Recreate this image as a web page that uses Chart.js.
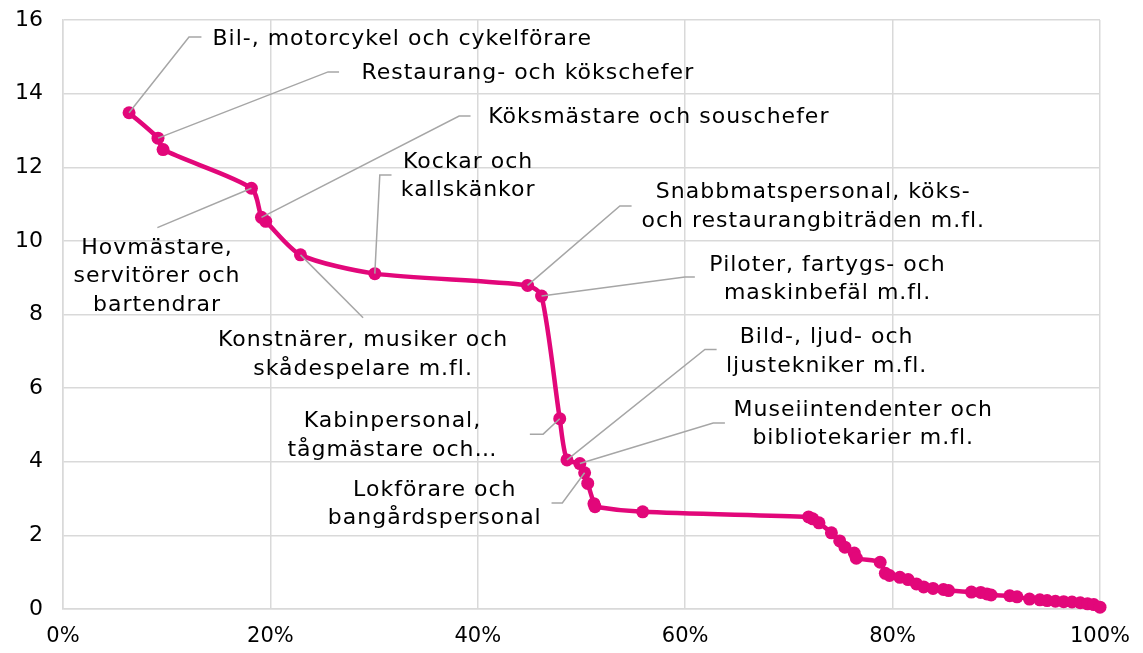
<!DOCTYPE html>
<html lang="sv">
<head>
<meta charset="utf-8">
<title>Yrken</title>
<script src="https://cdn.jsdelivr.net/npm/chart.js@4.4.1/dist/chart.umd.min.js"></script>
<style>
    html, body {
        margin: 0;
        padding: 0;
        background: #ffffff;
    }
    #wrap {
        width: 1143px;
        height: 653px;
    }
</style>
</head>
<body>
<div id="wrap"><canvas id="yrkesChart" width="1143" height="653"></canvas></div>
<script>
// andel av sysselsatta (kumulativ, %) och värde per yrke
const andelar = [
    6.37, 9.16, 9.65, 18.17, 19.14, 19.55, 22.9, 30.07, 44.8, 46.15,
    47.9, 48.6, 49.84, 50.3, 50.6, 51.2, 51.3, 55.9, 71.9, 72.3,
    72.9, 74.1, 74.9, 75.4, 76.3, 76.5, 78.8, 79.3, 79.7, 80.7,
    81.5, 82.3, 83.0, 83.9, 84.9, 85.4, 87.6, 88.5, 89.1, 89.5,
    91.3, 92.0, 93.2, 94.2, 94.9, 95.7, 96.5, 97.3, 98.1, 98.8,
    99.4, 100
];
const varden = [
    13.48, 12.79, 12.48, 11.43, 10.64, 10.53, 9.62, 9.11, 8.79, 8.5,
    5.17, 4.05, 3.95, 3.7, 3.41, 2.86, 2.78, 2.64, 2.5, 2.45,
    2.34, 2.07, 1.85, 1.68, 1.52, 1.38, 1.27, 0.97, 0.91, 0.86,
    0.8, 0.68, 0.6, 0.56, 0.53, 0.5, 0.46, 0.45, 0.41, 0.38,
    0.36, 0.33, 0.27, 0.25, 0.23, 0.21, 0.2, 0.19, 0.17, 0.14,
    0.12, 0.05
];
const xTicks = [0, 20, 40, 60, 80, 100];
const yTicks = [0, 2, 4, 6, 8, 10, 12, 14, 16];

// etiketter: vilken punkt de pekar på och var texten står (i axelns enheter)
const etiketter = [
    { text: ["Bil-, motorcykel och cykelförare"], punkt: 0, knä: [12.15, 15.54], slut: [13.35, 15.54], pos: [14.41, 15.47], align: "left" },
    { text: ["Restaurang- och kökschefer"], punkt: 1, knä: [25.56, 14.59], slut: [26.62, 14.59], pos: [28.78, 14.56], align: "left" },
    { text: ["Köksmästare och souschefer"], punkt: 4, knä: [38.2, 13.39], slut: [39.3, 13.39], pos: [41.0, 13.36], align: "left" },
    { text: ["Kockar och", "kallskänkor"], punkt: 7, knä: [30.55, 11.79], slut: [31.68, 11.79], pos: [39.07, 12.14], align: "center" },
    { text: ["Hovmästare,", "servitörer och", "bartendrar"], punkt: 3, knä: [9.1, 10.36], slut: null, pos: [9.07, 9.8], align: "center" },
    { text: ["Konstnärer, musiker och", "skådespelare m.fl."], punkt: 6, knä: [28.94, 7.91], slut: null, pos: [28.94, 7.29], align: "center" },
    { text: ["Snabbmatspersonal, köks-", "och restaurangbiträden m.fl."], punkt: 8, knä: [53.7, 10.95], slut: [54.83, 10.95], pos: [72.35, 11.32], align: "center" },
    { text: ["Piloter, fartygs- och", "maskinbefäl m.fl."], punkt: 9, knä: [59.97, 9.02], slut: [60.93, 9.02], pos: [73.73, 9.35], align: "center" },
    { text: ["Bild-, ljud- och", "ljustekniker m.fl."], punkt: 11, knä: [61.9, 7.05], slut: [63.03, 7.05], pos: [73.64, 7.38], align: "center" },
    { text: ["Museiintendenter och", "bibliotekarier m.fl."], punkt: 12, knä: [62.7, 5.05], slut: [63.83, 5.05], pos: [77.17, 5.41], align: "center" },
    { text: ["Kabinpersonal,", "tågmästare och…"], punkt: 10, knä: [46.3, 4.75], slut: [45.02, 4.75], pos: [31.77, 5.09], align: "center" },
    { text: ["Lokförare och", "bangårdspersonal"], punkt: 13, knä: [48.15, 2.88], slut: [47.11, 2.88], pos: [35.85, 3.23], align: "center" }
];

const FONT = "DejaVu Sans, Verdana, sans-serif";
const RADHOJD = 28.5;

const etikettPlugin = {
    id: "etiketter",
    afterDatasetsDraw(chart) {
        const ctx = chart.ctx;
        const xs = chart.scales.x;
        const ys = chart.scales.y;
        const px = v => xs.getPixelForValue(v);
        const py = v => ys.getPixelForValue(v);

        ctx.save();
        ctx.strokeStyle = "#A6A6A6";
        ctx.lineWidth = 1.5;
        etiketter.forEach(e => {
            ctx.beginPath();
            ctx.moveTo(px(andelar[e.punkt]), py(varden[e.punkt]));
            ctx.lineTo(px(e.knä[0]), py(e.knä[1]));
            if (e.slut) {
                ctx.lineTo(px(e.slut[0]), py(e.slut[1]));
            }
            ctx.stroke();
        });

        ctx.fillStyle = "#000000";
        ctx.font = "22px " + FONT;
        ctx.letterSpacing = "1px";
        ctx.textBaseline = "middle";
        etiketter.forEach(e => {
            ctx.textAlign = e.align;
            const x = px(e.pos[0]);
            const y0 = py(e.pos[1]);
            e.text.forEach((rad, i) => {
                ctx.fillText(rad, x, y0 + i * RADHOJD);
            });
        });
        ctx.restore();
    }
};

const punkter = andelar.map((x, i) => ({ x: x, y: varden[i] }));

new Chart(document.getElementById("yrkesChart"), {
    type: "line",
    data: {
        datasets: [
            {
                data: punkter,
                borderColor: "#E2077A",
                backgroundColor: "#E2077A",
                borderWidth: 4.5,
                pointRadius: 6.5,
                pointHoverRadius: 6.5,
                pointBorderWidth: 0,
                tension: 0.25,
                clip: false
            }
        ]
    },
    options: {
        responsive: false,
        animation: false,
        events: [],
        layout: {
            padding: { top: 20, right: 43, left: 0, bottom: 0 }
        },
        plugins: {
            legend: { display: false },
            tooltip: { enabled: false }
        },
        scales: {
            x: {
                type: "linear",
                min: 0,
                max: 100,
                afterBuildTicks: scale => {
                    scale.ticks = xTicks.map(v => ({ value: v }));
                },
                afterFit: scale => {
                    scale.height = 44;
                    scale.paddingLeft = 0;
                    scale.paddingRight = 0;
                },
                grid: {
                    color: "#D9D9D9",
                    lineWidth: 1.5,
                    drawTicks: false
                },
                border: { color: "#D9D9D9", width: 1.5 },
                ticks: {
                    color: "#000000",
                    padding: 15,
                    font: { family: FONT, size: 21 },
                    callback: v => v + "%"
                }
            },
            y: {
                min: 0,
                max: 16,
                afterBuildTicks: scale => {
                    scale.ticks = yTicks.map(v => ({ value: v }));
                },
                afterFit: scale => {
                    scale.width = 63;
                    scale.paddingTop = 0;
                    scale.paddingBottom = 0;
                },
                grid: {
                    color: "#D9D9D9",
                    lineWidth: 1.5,
                    drawTicks: false
                },
                border: { color: "#D9D9D9", width: 1.5 },
                ticks: {
                    color: "#000000",
                    padding: 20,
                    font: { family: FONT, size: 22 }
                }
            }
        }
    },
    plugins: [etikettPlugin]
});
</script>
</body>
</html>
